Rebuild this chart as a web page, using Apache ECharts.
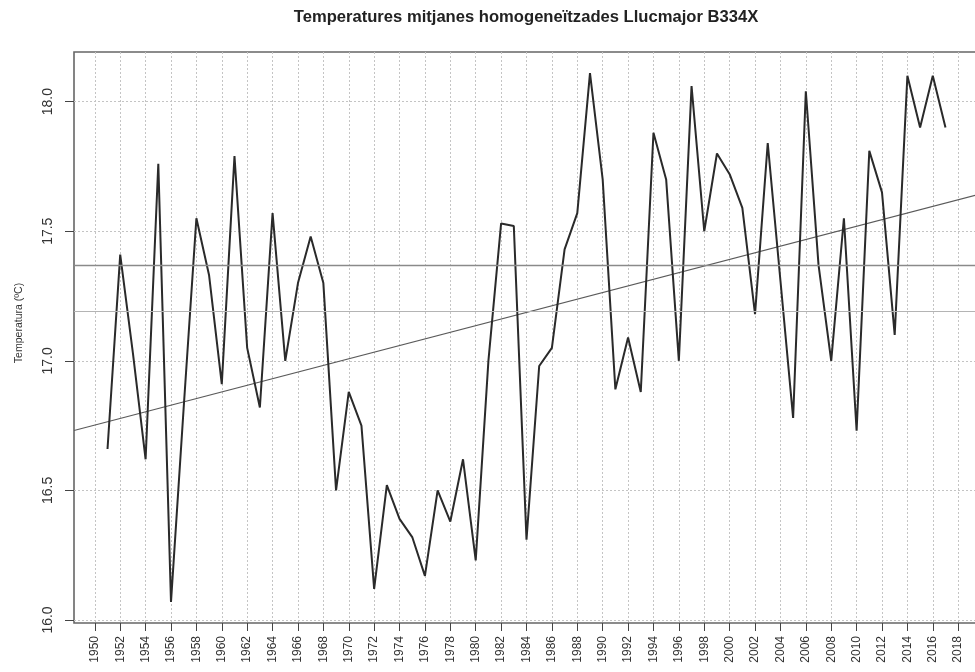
<!DOCTYPE html>
<html>
<head>
<meta charset="utf-8">
<script src="https://cdn.jsdelivr.net/npm/echarts@6/dist/echarts.min.js"></script>
<style>
  html, body { margin: 0; padding: 0; background: #ffffff; }
  #chart { width: 975px; height: 672px; }
</style>
</head>
<body>
<div id="chart"></div>
<script>
// Annual homogenised mean temperature, Llucmajor (B334X), in °C
const years = [
  1951, 1952, 1953, 1954, 1955, 1956, 1957, 1958, 1959, 1960,
  1961, 1962, 1963, 1964, 1965, 1966, 1967, 1968, 1969, 1970,
  1971, 1972, 1973, 1974, 1975, 1976, 1977, 1978, 1979, 1980,
  1981, 1982, 1983, 1984, 1985, 1986, 1987, 1988, 1989, 1990,
  1991, 1992, 1993, 1994, 1995, 1996, 1997, 1998, 1999, 2000,
  2001, 2002, 2003, 2004, 2005, 2006, 2007, 2008, 2009, 2010,
  2011, 2012, 2013, 2014, 2015, 2016, 2017
];
const tempMean = [
  16.66, 17.41, 17.03, 16.62, 17.76, 16.07, 16.82, 17.55, 17.33, 16.91,
  17.79, 17.05, 16.82, 17.57, 17.00, 17.30, 17.48, 17.30, 16.50, 16.88,
  16.75, 16.12, 16.52, 16.39, 16.32, 16.17, 16.50, 16.38, 16.62, 16.23,
  17.00, 17.53, 17.52, 16.31, 16.98, 17.05, 17.43, 17.57, 18.11, 17.70,
  16.89, 17.09, 16.88, 17.88, 17.70, 17.00, 18.06, 17.50, 17.80, 17.72,
  17.59, 17.18, 17.84, 17.31, 16.78, 18.04, 17.37, 17.00, 17.55, 16.73,
  17.81, 17.65, 17.10, 18.10, 17.90, 18.10, 17.90
];
const xTickYears = [
  1950, 1952, 1954, 1956, 1958, 1960, 1962, 1964, 1966, 1968,
  1970, 1972, 1974, 1976, 1978, 1980, 1982, 1984, 1986, 1988,
  1990, 1992, 1994, 1996, 1998, 2000, 2002, 2004, 2006, 2008,
  2010, 2012, 2014, 2016, 2018
];
const yTickValues = [16.0, 16.5, 17.0, 17.5, 18.0];
const normalPeriod = [1981, 2010];

const titleText = 'Temperatures mitjanes homogeneïtzades Llucmajor B334X';
const yAxisTitle = 'Temperatura (ºC)';
const FONT = 'Liberation Sans';

// Summary statistics
const n = years.length;
const mean = arr => arr.reduce((s, v) => s + v, 0) / arr.length;
const overallMean = mean(tempMean);
const normalMean = mean(tempMean.filter((v, i) => years[i] >= normalPeriod[0] && years[i] <= normalPeriod[1]));

// Least-squares linear trend
const xBar = mean(years);
let sxy = 0, sxx = 0;
for (let i = 0; i < n; i++) {
  sxy += (years[i] - xBar) * (tempMean[i] - overallMean);
  sxx += (years[i] - xBar) * (years[i] - xBar);
}
const slope = sxy / sxx;
const trendAt = x => overallMean + slope * (x - xBar);

// Axis ranges padded by 4% on each side
function padRange(lo, hi) { const d = (hi - lo) * 0.04; return [lo - d, hi + d]; }
const [xMin, xMax] = padRange(Math.min(...years), Math.max(...years));
const [yMin, yMax] = padRange(Math.min(...tempMean), Math.max(...tempMean));

const gridLine = { type: [2, 2], color: '#c4c4c4', width: 1 };

const chart = echarts.init(document.getElementById('chart'), null, { renderer: 'canvas' });
chart.setOption({
  animation: false,
  backgroundColor: '#ffffff',
  grid: {
    left: 74, right: -4, top: 52, bottom: 49,
    outerBoundsMode: 'none',
    show: true, borderColor: '#666666', borderWidth: 1.6,
    backgroundColor: 'transparent'
  },
  graphic: [
    {
      type: 'text', x: 526, y: 17,
      style: {
        text: titleText, align: 'center', verticalAlign: 'middle',
        font: 'bold 16.6px "' + FONT + '"', fill: '#222222'
      }
    },
    {
      type: 'text', x: 19, y: 323, rotation: Math.PI / 2,
      style: {
        text: yAxisTitle, align: 'center', verticalAlign: 'middle',
        font: '10.5px "' + FONT + '"', fill: '#333333'
      }
    }
  ],
  xAxis: {
    type: 'value', min: xMin, max: xMax,
    axisLine: { show: false },
    axisTick: { show: true, length: 8, customValues: xTickYears, lineStyle: { color: '#444444', width: 1 } },
    axisLabel: {
      customValues: xTickYears, rotate: 90, margin: 13,
      fontFamily: FONT, fontSize: 12, color: '#333333',
      formatter: v => String(v)
    },
    splitLine: { show: true, lineStyle: gridLine }
  },
  yAxis: {
    type: 'value', min: yMin, max: yMax,
    axisLine: { show: false },
    axisTick: { show: true, length: 9, customValues: yTickValues, lineStyle: { color: '#444444', width: 1 } },
    axisLabel: {
      customValues: yTickValues, rotate: 90, margin: 19,
      fontFamily: FONT, fontSize: 14, color: '#333333',
      formatter: v => v.toFixed(1)
    },
    splitLine: { show: true, lineStyle: gridLine }
  },
  series: [
    {
      name: 'trend', type: 'line', silent: true, showSymbol: false, z: 3,
      data: [[xMin, trendAt(xMin)], [xMax, trendAt(xMax)]],
      lineStyle: { color: '#5a5a5a', width: 1.2 },
      markLine: {
        silent: true, symbol: 'none', label: { show: false },
        data: [
          { yAxis: normalMean, lineStyle: { color: '#8a8a8a', width: 1.4, type: 'solid' } },
          { yAxis: overallMean, lineStyle: { color: '#b4b4b4', width: 1.2, type: 'solid' } }
        ]
      }
    },
    {
      name: 'temperature', type: 'line', showSymbol: false, z: 4,
      data: years.map((y, i) => [y, tempMean[i]]),
      lineStyle: { color: '#2a2a2a', width: 2 }
    }
  ]
});
</script>
</body>
</html>
